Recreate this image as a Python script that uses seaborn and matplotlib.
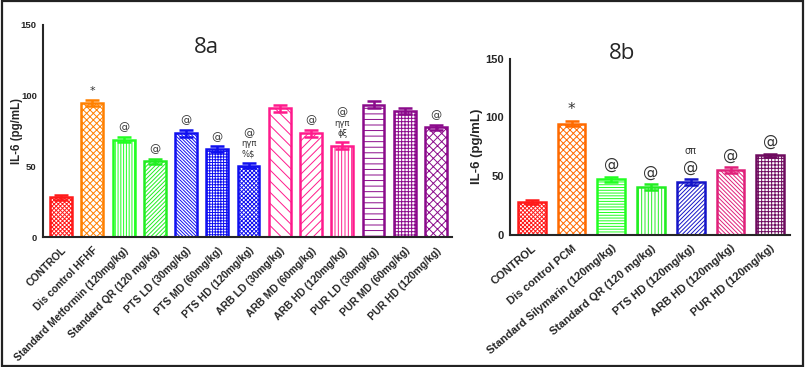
import numpy as np
import pandas as pd
import matplotlib
matplotlib.use("Agg")
import matplotlib.pyplot as plt
import seaborn as sns
from matplotlib.patches import Rectangle

# ---- data: panel 8a
labels_a = ['CONTROL', 'Dis control HFHF', 'Standard Metformin (120mg/kg)',
            'Standard QR (120 mg/kg)', 'PTS LD (30mg/kg)', 'PTS MD (60mg/kg)',
            'PTS HD (120mg/kg)', 'ARB LD (30mg/kg)', 'ARB MD (60mg/kg)',
            'ARB HD (120mg/kg)', 'PUR LD (30mg/kg)', 'PUR MD (60mg/kg)',
            'PUR HD (120mg/kg)']
values_a = [28, 95, 69, 53.5, 73.5, 62.5, 50.5, 91, 73.5, 64.5, 93.5, 89, 77.5]
errors_a = [1.5, 2, 2, 2, 2.5, 2, 2, 2.5, 2.5, 2.5, 2.5, 2, 2]
colors_a = ['#ff1a1a', '#ff8000', '#22ff22', '#22ee22', '#1010f0', '#1010f0',
            '#1010f0', '#ff1a8c', '#ff1a8c', '#ff1a8c', '#8b0a8b', '#8b0a8b',
            '#8b0a8b']
hatch_a = ['x' * 8, 'x' * 5, '|' * 6, '/' * 8, '\\' * 10, '+' * 6, 'x' * 8,
           '\\' * 3, '/' * 4, '|' * 5, '-' * 3, '+' * 5, 'x' * 4]
# significance marks, bottom line first
notes_a = [[], ['*'], ['@'], ['@'], ['@'], ['@'], ['%$', 'ηγπ', '@'], [], ['@'],
           ['ϕξ', 'ηγπ', '@'], [], [], ['@']]

# ---- data: panel 8b
labels_b = ['CONTROL', 'Dis control PCM', 'Standard Silymarin (120mg/kg)',
            'Standard QR (120 mg/kg)', 'PTS HD (120mg/kg)', 'ARB HD (120mg/kg)',
            'PUR HD (120mg/kg)']
values_b = [28, 94.5, 47, 40.5, 45, 55, 67.5]
errors_b = [1.5, 2, 2.5, 2.5, 2.5, 2.5, 1.5]
colors_b = ['#ff1a1a', '#ff6a00', '#22ff22', '#22ee22', '#1414c8', '#e0207a',
            '#6e0a5e']
hatch_b = ['x' * 8, 'x' * 5, '-' * 6, '|' * 5, '/' * 8, '\\' * 8, '+' * 5]
notes_b = [[], ['*'], ['@'], ['@'], ['@', 'σπ'], ['@'], ['@']]

fig = plt.figure(figsize=(8.05, 3.67), dpi=100)
fig.patches.append(Rectangle((0.002, 0.004), 0.995, 0.993, transform=fig.transFigure,
                             fill=False, edgecolor='#222222', linewidth=1.6))


def panel(ax, labels, values, errors, colors, hatches, notes, xlim,
          big, small, fs, yfs, rot, ylab_x):
    df = pd.DataFrame({'group': labels, 'value': values})
    sns.barplot(data=df, x='group', y='value', hue='group', palette=colors,
                legend=False, width=0.7, ax=ax)
    for patch, c, h in zip(ax.patches, colors, hatches):
        patch.set_facecolor('white')
        patch.set_edgecolor(c)
        patch.set_hatch(h)
        patch.set_linewidth(1.8)
    for i, (v, e, c) in enumerate(zip(values, errors, colors)):
        ax.errorbar(i, v, yerr=e, color=c, capsize=5, capthick=1.8,
                    elinewidth=1.8, zorder=5)
        off = 3
        for line in notes[i]:
            size = big if line in ('@', '*') else small
            ax.annotate(line, (i, v + e), xytext=(0, off),
                        textcoords='offset points', ha='center', va='bottom',
                        fontsize=size, color='#333333',
                        family=['DejaVu Sans'])
            off += size * 1.25
    ax.set_ylim(0, 150)
    ax.set_xlim(*xlim)
    ax.set_yticks([0, 50, 100, 150])
    ax.set_xlabel('')
    ax.set_ylabel('IL-6 (pg/mL)', fontsize=yfs + 1.5, fontweight='bold')
    ax.yaxis.set_label_coords(ylab_x, 0.5)
    ax.set_xticks(range(len(labels)))
    ax.set_xticklabels(labels, rotation=rot, ha='right', rotation_mode='anchor',
                       fontsize=fs, fontweight='bold')
    for t in ax.get_yticklabels():
        t.set_fontweight('bold')
        t.set_fontsize(yfs)
    ax.tick_params(axis='both', width=1.3, length=4, pad=2)
    ax.tick_params(axis='y', length=3, pad=1.5)
    for s in ['top', 'right']:
        ax.spines[s].set_visible(False)
    for s in ['left', 'bottom']:
        ax.spines[s].set_linewidth(1.5)


sns.set_style('white')
plt.rcParams['font.family'] = ['Liberation Sans', 'DejaVu Sans']
plt.rcParams['hatch.linewidth'] = 0.7

ax1 = fig.add_axes([0.0534, 0.354, 0.508, 0.578])
panel(ax1, labels_a, values_a, errors_a, colors_a, hatch_a, notes_a,
      (-0.58, 12.51), 8, 6, 7.5, 6.8, 45, -0.05)
ax1.text(0.4, 0.87, '8a', transform=ax1.transAxes, fontsize=16,
         family=['Open Sans', 'DejaVu Sans'], ha='center')

ax2 = fig.add_axes([0.6335, 0.3605, 0.348, 0.48])
panel(ax2, labels_b, values_b, errors_b, colors_b, hatch_b, notes_b,
      (-0.55, 6.5), 11, 7, 8, 8, 40, -0.098)
ax2.text(0.4, 1.0, '8b', transform=ax2.transAxes, fontsize=16,
         family=['Open Sans', 'DejaVu Sans'], ha='center')

fig.savefig('out.png', dpi=100)
